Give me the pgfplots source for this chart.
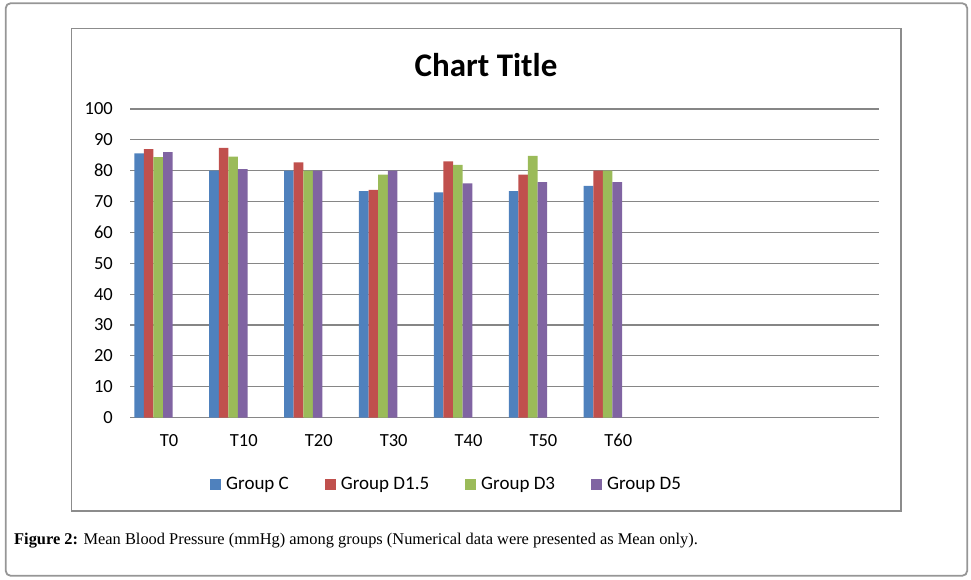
\documentclass[border=0pt]{standalone}
\usepackage{fontspec}
\setmainfont{Carlito}
\newfontfamily\capfont{Liberation Serif}
\usepackage{pgfplots}
\pgfplotsset{compat=1.18}
\definecolor{cC}{HTML}{4F81BD}
\definecolor{cD15}{HTML}{C0504D}
\definecolor{cD3}{HTML}{9BBB59}
\definecolor{cD5}{HTML}{8064A2}
\definecolor{gridc}{RGB}{134,134,134}
\definecolor{framec}{RGB}{140,140,140}
\definecolor{outerc}{RGB}{150,150,150}
\begin{document}
\begin{tikzpicture}[x=1pt,y=1pt]
\useasboundingbox (0,0) rectangle (971,579);
\draw[outerc, line width=1.8pt, rounded corners=5pt] (5.7,3.2) rectangle (967.2,575.8);
\draw[framec, line width=1.2pt] (71.7,68) rectangle (901,550.7);
\node[font=\fontsize{33}{38}\selectfont\bfseries] at (486,514) {Chart Title};
\node[anchor=base west, font=\capfont\fontsize{16.4}{19}\selectfont, inner sep=0pt] at (14,34.5) {\textbf{Figure 2:} Mean Blood Pressure (mmHg) among groups (Numerical data were presented as Mean only).};
\begin{axis}[
  at={(130pt,161.5pt)}, anchor=south west,
  scale only axis, width=749pt, height=308.5pt,
  xmin=-0.5, xmax=9.5, ymin=0, ymax=100,
  xtick={0,1,2,3,4,5,6},
  xticklabels={T0,T10,T20,T30,T40,T50,T60},
  ytick={0,10,...,100},
  ymajorgrids, grid style={gridc, line width=1.2pt},
  axis line style={draw=none},
  major tick length=0pt,
  tick label style={font=\fontsize{18.5}{22}\selectfont},
  /pgf/number format/assume math mode=true,
  xticklabel style={anchor=base, inner sep=0pt, yshift=-29.4pt, xshift=1.5pt},
  yticklabel style={anchor=east, inner sep=0pt, xshift=-17pt},
  legend columns=4,
  legend style={at={(axis description cs:0.1068,-0.2156)}, anchor=west, draw=none, fill=none, inner sep=0pt,
    font=\fontsize{19}{22}\selectfont,
    nodes={inner sep=0pt},
    /tikz/every odd column/.append style={column sep=5pt},
    /tikz/every even column/.append style={column sep=36pt}},
  legend image code/.code={\fill[#1] (0pt,-5.5pt) rectangle (11pt,5.5pt);},
]
\addplot[ybar, bar width=9.6pt, bar shift=-28.4pt, fill=cC, draw=none] coordinates {(0,85.6) (1,80.0) (2,80.0) (3,73.4) (4,73.0) (5,73.4) (6,75.1)};
\addlegendentry{Group C}
\addplot[ybar, bar width=9.6pt, bar shift=-18.8pt, fill=cD15, draw=none] coordinates {(0,87.0) (1,87.4) (2,82.7) (3,73.8) (4,83.0) (5,78.7) (6,80.0)};
\addlegendentry{Group D1.5}
\addplot[ybar, bar width=9.6pt, bar shift=-9.2pt, fill=cD3, draw=none] coordinates {(0,84.4) (1,84.6) (2,80.0) (3,78.7) (4,81.9) (5,84.8) (6,80.0)};
\addlegendentry{Group D3}
\addplot[ybar, bar width=9.6pt, bar shift=0.4pt, fill=cD5, draw=none] coordinates {(0,86.0) (1,80.5) (2,80.0) (3,80.0) (4,75.9) (5,76.3) (6,76.3)};
\addlegendentry{Group D5}
\end{axis}
\end{tikzpicture}
\end{document}
